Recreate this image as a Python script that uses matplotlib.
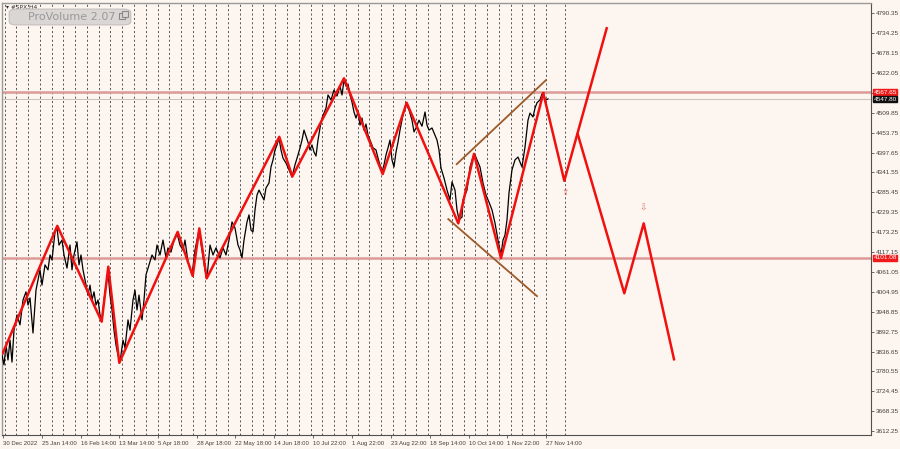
import numpy as np
import matplotlib
matplotlib.use("Agg")
import matplotlib.pyplot as plt
from matplotlib.patches import FancyBboxPatch, Rectangle
import matplotlib.transforms as mtransforms

# ---- data (x = bar position on the chart, y = price) ----
price_x = [2, 4, 6, 8, 10, 12, 14, 17, 20, 23, 26, 28, 30, 33, 36, 40, 42, 45, 48, 50, 52, 55, 57,
           59, 62, 64, 67, 70, 72, 74, 77, 79, 81, 83, 85, 88, 90, 92, 94, 96, 98, 100, 102, 104, 106,
           108, 110, 112, 114, 116, 118, 120,
           123, 125, 128, 130, 133, 135, 137, 139, 142, 144, 146, 149, 152, 155, 157, 160, 163, 166,
           168, 171, 174, 177, 180, 183, 185, 188, 190, 192, 195, 198, 199,
           202, 205, 207, 210, 213, 216, 220, 223, 226, 229, 232, 235, 238, 240, 242, 244, 247, 249,
           251, 253, 255, 257, 259, 262, 264, 266, 269, 271, 273, 275, 277, 279,
           281, 283, 286, 289, 292, 295, 298, 300, 302, 304, 306, 308, 310, 312, 314, 316, 318, 320,
           322, 324, 326, 328, 331, 334, 337, 340, 342, 344,
           346, 348, 350, 352, 354, 356, 358, 360, 362, 364, 366, 368, 370, 373, 376, 378, 380, 382,
           384, 386, 388, 390, 392, 394, 396, 398, 400, 403, 406,
           409, 412, 414, 416, 419, 422, 425, 427, 429, 432, 435, 437, 439, 441, 444, 447, 450, 452,
           455, 457, 459,
           462, 463, 465, 467, 470, 473, 475, 477, 480, 483, 486, 489, 492, 495, 498, 501,
           503, 505, 507, 509, 512, 515, 518, 520, 522, 525, 528, 530, 533, 535, 537, 540, 542, 544,
           546, 548]
price_y = [3827, 3799, 3855, 3813, 3869, 3807, 3897, 3940, 3912, 3982, 4005, 3968, 3988, 3889, 4010,
           4067, 4024, 4081, 4067, 4109, 4095, 4174, 4185,
           4137, 4151, 4109, 4072, 4137, 4067, 4109, 4146, 4081, 4109, 4067, 4039, 3996, 4024, 3982,
           4005, 3968, 3982, 3940, 3926, 3982, 4024, 4061, 3996, 3954, 3897, 3855, 3827, 3807,
           3869, 3847, 3926, 3897, 3982, 4010, 3954, 3996, 3926, 3982, 4053, 4081, 4109, 4095, 4137,
           4109, 4151, 4101, 4129, 4117, 4151, 4171, 4137, 4123, 4151, 4089, 4072, 4053, 4123, 4165,
           4179,
           4123, 4067, 4044, 4137, 4109, 4129, 4101, 4129, 4109, 4151, 4202, 4185, 4137, 4123, 4101,
           4151, 4202, 4222, 4179, 4174, 4236, 4278, 4292, 4275, 4264, 4298, 4312, 4357, 4377, 4405,
           4419, 4439,
           4405, 4382, 4368, 4349, 4329, 4363, 4391, 4411, 4433, 4461, 4444, 4427, 4405, 4419, 4399,
           4388, 4433, 4467, 4495, 4509, 4523, 4560, 4546, 4574, 4557, 4585, 4560, 4602,
           4585, 4591, 4560, 4540, 4512, 4495, 4512, 4475, 4495, 4461, 4478, 4447, 4433, 4411, 4405,
           4382, 4363, 4343, 4363, 4391, 4411, 4433, 4377, 4357, 4399, 4427, 4461, 4504, 4535,
           4518, 4489, 4456, 4467, 4489, 4472, 4512, 4475, 4461, 4467, 4447, 4433, 4405, 4354, 4326,
           4292, 4264, 4315, 4292, 4236, 4208,
           4216, 4264, 4278, 4292, 4357, 4385, 4391, 4377, 4357, 4312, 4278, 4258, 4236, 4199, 4151,
           4109,
           4151, 4165, 4208, 4284, 4349, 4377, 4385, 4371, 4357, 4413, 4489, 4509, 4498, 4523, 4538,
           4546, 4563, 4554, 4546, 4549]

# ZigZag swing points
zz_x = [2.7, 57.3, 101.7, 108.3, 119.3, 177.7, 192.7, 199.3, 206.7, 279.3, 292.3, 344, 382.7,
        406.7, 458.3, 474, 501, 543.3]
zz_y = [3832, 4191, 3921, 4076, 3805, 4174, 4050, 4184, 4043, 4442, 4330, 4607, 4337,
        4538, 4198, 4394, 4100, 4565]

# projected paths
proj_up_x = [543.3, 564.3, 606.7]
proj_up_y = [4565, 4318, 4748]
proj_dn_x = [577.7, 624.3, 643.7, 674]
proj_dn_y = [4450, 4001, 4198, 3815]

# channel lines
chan_up_x, chan_up_y = [456.7, 546], [4365, 4602]
chan_lo_x, chan_lo_y = [448.3, 537], [4210, 3993]

# horizontal levels
lvl_red = [4567.65, 4101.08]
lvl_bid = 4547.80

# arrows
arrow_x = [565, 643]
arrow_y = [4286, 4241]
arrow_txt = ["\u21e7", "\u21e9"]

date_pos = [2.7, 41.7, 81, 119, 157.7, 196.7, 235.3, 274, 313.3, 351.7, 391, 430, 469, 507.3, 546]
date_lbl = ["30 Dec 2022", "25 Jan 14:00", "16 Feb 14:00", "13 Mar 14:00", "5 Apr 18:00",
            "28 Apr 18:00", "22 May 18:00", "14 Jun 18:00", "10 Jul 22:00", "1 Aug 22:00",
            "23 Aug 22:00", "18 Sep 14:00", "10 Oct 14:00", "1 Nov 22:00", "27 Nov 14:00"]

BG = "#fdf5ef"
W, H = 900, 449

fig = plt.figure(figsize=(9, 4.49), dpi=100, facecolor=BG)
ax = fig.add_axes([2 / W, (H - 435) / H, 869 / W, 432 / H], facecolor=BG)
ax.set_xlim(2, 871)
ax.set_ylim(3601.5, 4819.3)

# weekly separators
for xv in np.arange(4.5, 547, 11.77):
    ax.axvline(xv, color="#505050", lw=0.7, ls=(0, (2, 2.5)), zorder=1)
ax.axvline(565, color="#505050", lw=0.7, ls=(0, (2, 2.5)), zorder=1)

for lv in lvl_red:
    ax.axhline(lv, color="#dc9a98", lw=1.8, zorder=2)
ax.axhline(lvl_bid, color="#c9c4c2", lw=0.8, zorder=2)

ax.plot(price_x, price_y, color="black", lw=0.9, zorder=3)
ax.plot(chan_up_x, chan_up_y, color="#9b5a2a", lw=1.3, zorder=4)
ax.plot(chan_lo_x, chan_lo_y, color="#9b5a2a", lw=1.3, zorder=4)
ax.plot(zz_x, zz_y, color="#f01010", lw=1.8, zorder=5)
ax.plot(proj_up_x, proj_up_y, color="#f01010", lw=1.8, zorder=5)
ax.plot(proj_dn_x, proj_dn_y, color="#f01010", lw=1.8, zorder=5)
for xa, ya, t in zip(arrow_x, arrow_y, arrow_txt):
    ax.text(xa, ya, t, color="#e87070", fontsize=6.5, ha="center", va="center", zorder=6)

# axes styling
for s in ["top", "left"]:
    ax.spines[s].set_color("#9a9a9a")
    ax.spines[s].set_linewidth(1.0)
for s in ["right", "bottom"]:
    ax.spines[s].set_color("#505050")
    ax.spines[s].set_linewidth(0.8)

yt = np.linspace(3612.25, 4790.35, 22)
ax.yaxis.tick_right()
ax.set_yticks(yt)
ax.set_yticklabels([f"{v:.2f}" for v in yt])
ax.tick_params(axis="y", direction="out", length=2.5, width=0.6, color="#505050",
               labelsize=4.6, labelcolor="#404040", pad=1.2)
ax.set_xticks(date_pos)
ax.set_xticklabels(date_lbl, ha="left")
ax.tick_params(axis="x", direction="out", length=2.5, width=0.6, color="#505050",
               labelsize=4.3, labelcolor="#404040", pad=1.5)
for lbl in ax.get_xticklabels() + ax.get_yticklabels():
    lbl.set_family("Liberation Sans")

# price tags on the right scale
tr = mtransforms.blended_transform_factory(ax.transAxes, ax.transData)
for v, c in ((lvl_red[0], "#f01818"), (lvl_bid, "#101010"), (lvl_red[1], "#f01818")):
    ax.text(1.003, v, f"{v:.2f}", transform=tr, color="white", fontsize=4.6,
            family="Liberation Sans", ha="left", va="center", zorder=10,
            bbox=dict(boxstyle="square,pad=0.05", fc=c, ec=c), clip_on=False)

# top-left labels
fig.text(6 / W, 1 - 7 / H, "\u25be #SPX,H4", fontsize=4.2, color="#303030", va="center")
btn = FancyBboxPatch((11 / W, 1 - 24 / H), 118 / W, 14 / H,
                     boxstyle="round,pad=0.002,rounding_size=0.008",
                     transform=fig.transFigure, fc="#d9d6d4", ec="#c4c0be", lw=0.8, zorder=5)
fig.patches.append(btn)
fig.text(28 / W, 1 - 17 / H, "ProVolume 2.07", fontsize=8, color="#9a9898", va="center",
         family="DejaVu Sans", zorder=6)
# small "restore" icon on the button
for dx, dy in ((0, 0), (2.5, -2.5)):
    fig.patches.append(Rectangle(((119 + dx) / W, 1 - (19 + dy) / H), 6 / W, 6 / H,
                                 transform=fig.transFigure, fc="#d9d6d4", ec="#8a8888",
                                 lw=0.8, zorder=6 + dx))

fig.savefig("out.png", dpi=100, facecolor=BG)
